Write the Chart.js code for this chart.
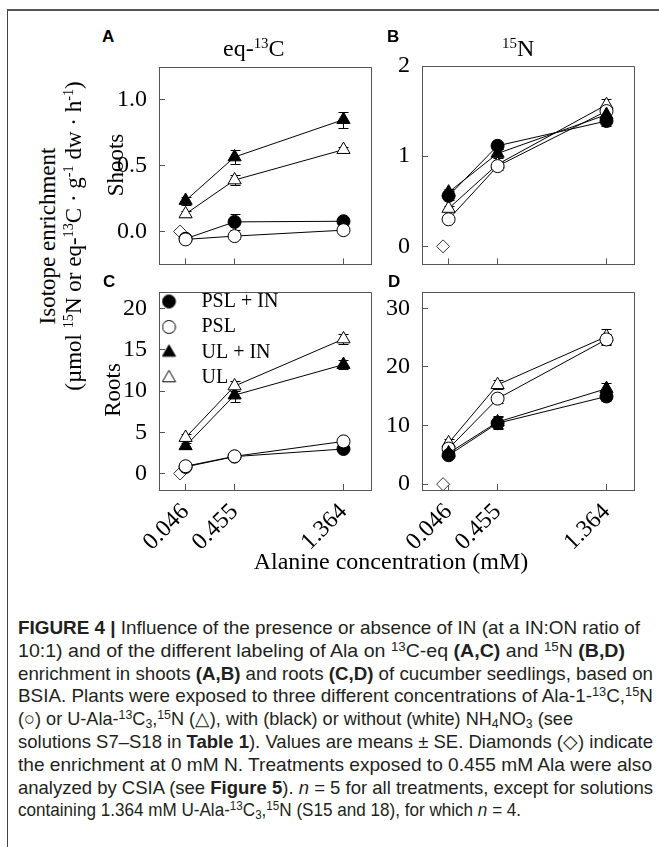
<!DOCTYPE html>
<html><head><meta charset="utf-8">
<script src="https://cdn.jsdelivr.net/npm/chart.js@4.4.1/dist/chart.umd.min.js"></script>
<style>
html,body{margin:0;padding:0;background:#fff;}
body{width:659px;height:847px;position:relative;overflow:hidden;font-family:"Liberation Serif",serif;color:#000;}
.abs{position:absolute;white-space:nowrap;}
canvas{position:absolute;}
.frame{position:absolute;left:7px;top:9px;width:720px;height:900px;border-top:2px solid #555;border-left:1px solid #444;}
.lbl{font-family:"Liberation Sans",Arial,sans-serif;font-weight:bold;font-size:17px;line-height:1;}
.ser{font-family:"Liberation Serif",serif;line-height:1;}
.rot{transform:translate(-50%,-50%) rotate(-90deg);}
.ser sup{font-size:0.62em;vertical-align:baseline;position:relative;top:-0.55em;}
.cap{font-family:"Liberation Sans",Arial,sans-serif;font-size:18.5px;color:#231f20;line-height:1;transform-origin:0 50%;}
.cap sup{font-size:0.68em;vertical-align:baseline;position:relative;top:-0.48em;}
.cap sub{font-size:0.68em;vertical-align:baseline;position:relative;top:0.25em;}
</style></head>
<body>
<div class="frame"></div>
<canvas id="cA" width="280" height="217" style="left:100px;top:56px"></canvas>
<canvas id="cB" width="280" height="217" style="left:363px;top:56px"></canvas>
<canvas id="cC" width="280" height="270" style="left:100px;top:280px"></canvas>
<canvas id="cD" width="280" height="270" style="left:363px;top:280px"></canvas>

<div class="abs lbl" style="left:102px;top:28px">A</div>
<div class="abs lbl" style="left:387px;top:28px">B</div>
<div class="abs lbl" style="left:103px;top:273px">C</div>
<div class="abs lbl" style="left:388px;top:273px">D</div>
<div class="abs ser" style="left:223px;top:36px;font-size:24px">eq-<sup>13</sup>C</div>
<div class="abs ser" style="left:502px;top:36px;font-size:24px"><sup>15</sup>N</div>
<div class="abs ser rot" style="left:115px;top:165px;font-size:23px">Shoots</div>
<div class="abs ser rot" style="left:112px;top:390px;font-size:23px">Roots</div>
<div class="abs ser rot" style="left:47px;top:236px;font-size:23px">Isotope enrichment</div>
<div class="abs ser rot" style="left:73px;top:236px;font-size:23px">(µmol <sup>15</sup>N or eq-<sup>13</sup>C · g<sup>-1</sup> dw · h<sup>-1</sup>)</div>
<div class="abs ser" style="left:391px;top:549px;font-size:24px;transform:translateX(-50%)">Alanine concentration (mM)</div>

<div class="abs cap" data-w="622" style="left:18px;top:619px"><b>FIGURE 4 |</b> Influence of the presence or absence of IN (at a IN:ON ratio of</div>
<div class="abs cap" data-w="607" style="left:18px;top:642px">10:1) and of the different labeling of Ala on <sup>13</sup>C-eq <b>(A,C)</b> and <sup>15</sup>N <b>(B,D)</b></div>
<div class="abs cap" data-w="635" style="left:18px;top:665px">enrichment in shoots <b>(A,B)</b> and roots <b>(C,D)</b> of cucumber seedlings, based on</div>
<div class="abs cap" data-w="635" style="left:18px;top:687px">BSIA. Plants were exposed to three different concentrations of Ala-1-<sup>13</sup>C,<sup>15</sup>N</div>
<div class="abs cap" data-w="555" style="left:18px;top:710px">(○) or U-Ala-<sup>13</sup>C<sub>3</sub>,<sup>15</sup>N (△), with (black) or without (white) NH<sub>4</sub>NO<sub>3</sub> (see</div>
<div class="abs cap" data-w="635" style="left:18px;top:733px">solutions S7–S18 in <b>Table 1</b>). Values are means ± SE. Diamonds (◇) indicate</div>
<div class="abs cap" data-w="634" style="left:18px;top:756px">the enrichment at 0 mM N. Treatments exposed to 0.455 mM Ala were also</div>
<div class="abs cap" data-w="635" style="left:18px;top:779px">analyzed by CSIA (see <b>Figure 5</b>). <i>n</i> = 5 for all treatments, except for solutions</div>
<div class="abs cap" data-w="495" style="left:18px;top:801px">containing 1.364 mM U-Ala-<sup>13</sup>C<sub>3</sub>,<sup>15</sup>N (S15 and 18), for which <i>n</i> = 4.</div>

<script>
// ---------- data ----------
const xConc = [0.046, 0.455, 1.364];
const xTickLabels = ['0.046', '0.455', '1.364'];
const seriesLabels = ['PSL + IN', 'PSL', 'UL + IN', 'UL'];
const controlX = 0;          // 0 mM N (diamonds)
const controlValue = 0;

// A: shoots, eq-13C
const shootC_pslIn = [-0.055, 0.073, 0.078];
const shootC_psl   = [-0.06, -0.035, 0.01];
const shootC_ulIn  = [0.235, 0.566, 0.85];
const shootC_ul    = [0.133, 0.391, 0.622];
const shootC_pslIn_se = [0.02, 0.06, 0.03];
const shootC_psl_se   = [0.01, 0.02, 0.02];
const shootC_ulIn_se  = [0.03, 0.05, 0.06];
const shootC_ul_se    = [0.02, 0.04, 0.02];

// B: shoots, 15N
const shootN_pslIn = [0.56, 1.115, 1.39];
const shootN_psl   = [0.30, 0.89, 1.50];
const shootN_ulIn  = [0.60, 1.03, 1.46];
const shootN_ul    = [0.42, 0.91, 1.57];
const shootN_pslIn_se = [0.05, 0.04, 0.06];
const shootN_psl_se   = [0.03, 0.04, 0.05];
const shootN_ulIn_se  = [0.04, 0.05, 0.06];
const shootN_ul_se    = [0.03, 0.04, 0.06];

// C: roots, eq-13C
const rootC_pslIn = [0.8, 2.05, 2.97];
const rootC_psl   = [0.88, 2.08, 3.89];
const rootC_ulIn  = [3.35, 9.5, 13.2];
const rootC_ul    = [4.35, 10.6, 16.3];
const rootC_pslIn_se = [0.2, 0.2, 0.3];
const rootC_psl_se   = [0.2, 0.2, 0.3];
const rootC_ulIn_se  = [0.4, 0.8, 0.5];
const rootC_ul_se    = [0.4, 0.6, 0.66];

// D: roots, 15N
const rootN_pslIn = [4.93, 10.4, 14.97];
const rootN_psl   = [6.07, 14.6, 24.7];
const rootN_ulIn  = [5.3, 10.6, 16.3];
const rootN_ul    = [7.03, 16.96, 25.2];
const rootN_pslIn_se = [0.5, 1.0, 0.8];
const rootN_psl_se   = [0.5, 0.8, 1.0];
const rootN_ulIn_se  = [0.5, 1.0, 1.0];
const rootN_ul_se    = [0.6, 0.8, 1.3];

const yTicksA = [0, 0.5, 1.0];
const yTicksB = [0, 1, 2];
const yTicksC = [0, 5, 10, 15, 20];
const yTicksD = [0, 10, 20, 30];

// ---------- styles ----------
const markerStyles = [
  {shape: 'circle', filled: true},
  {shape: 'circle', filled: false},
  {shape: 'triangle', filled: true},
  {shape: 'triangle', filled: false}
];
const AXIS = '#555';
const CIRC_R = 6.5, TRI_R = 7.6;

function legendImage(st) {
  const c = document.createElement('canvas');
  c.width = 30; c.height = 20;
  const g = c.getContext('2d');
  g.fillStyle = st.filled ? '#000' : '#fff';
  g.strokeStyle = '#000'; g.lineWidth = 1;
  g.beginPath();
  const cx = 7.5, cy = 10;
  if (st.shape === 'circle') { g.arc(cx, cy, CIRC_R, 0, Math.PI * 2); }
  else {
    for (let k = 0; k < 3; k++) {
      const a = k * 2 * Math.PI / 3;
      const px = cx + Math.sin(a) * TRI_R, py = cy - Math.cos(a) * TRI_R;
      k ? g.lineTo(px, py) : g.moveTo(px, py);
    }
    g.closePath();
  }
  g.fill(); g.stroke();
  return c;
}

const errorBarPlugin = {
  id: 'errorBars',
  beforeDatasetsDraw(chart) {
    const ctx = chart.ctx, xs = chart.scales.x, ys = chart.scales.y;
    ctx.save(); ctx.strokeStyle = '#000'; ctx.lineWidth = 1;
    chart.data.datasets.forEach(d => {
      if (!d.errors) return;
      d.data.forEach((p, i) => {
        const e = d.errors[i]; if (!e) return;
        const x = Math.round(xs.getPixelForValue(p.x)) + 0.5;
        const y1 = Math.round(ys.getPixelForValue(p.y + e)) + 0.5;
        const y2 = Math.round(ys.getPixelForValue(p.y - e)) + 0.5;
        ctx.beginPath();
        ctx.moveTo(x, y1); ctx.lineTo(x, y2);
        ctx.moveTo(x - 5, y1); ctx.lineTo(x + 5, y1);
        ctx.moveTo(x - 5, y2); ctx.lineTo(x + 5, y2);
        ctx.stroke();
      });
    });
    ctx.restore();
  }
};

const framePlugin = {
  id: 'frameTR',
  beforeDatasetsDraw(chart) {
    const a = chart.chartArea, ctx = chart.ctx;
    ctx.save(); ctx.strokeStyle = AXIS; ctx.lineWidth = 1;
    const t = Math.floor(a.top) + 0.5, r = Math.floor(a.right) + 0.5;
    ctx.beginPath();
    ctx.moveTo(a.left, t); ctx.lineTo(r, t); ctx.lineTo(r, a.bottom);
    ctx.stroke(); ctx.restore();
  }
};

const legendShiftPlugin = {
  id: 'legendShift',
  afterLayout(chart) {
    const lg = chart.legend;
    if (!lg || !chart.options.plugins.legend.display) return;
    const a = chart.chartArea;
    const w = lg.width, h = lg.height;
    lg.left = a.left - 3; lg.top = a.top - 6;
    lg.right = lg.left + w; lg.bottom = lg.top + h;
  }
};

function makePanel(id, series, errs, yMin, yMax, yTicks, dec, showX, showLegend, orders, padTop) {
  const datasets = series.map((ys, i) => {
    const st = markerStyles[i];
    return {
      label: seriesLabels[i],
      data: xConc.map((x, k) => ({x, y: ys[k]})),
      errors: errs[i],
      showLine: true,
      borderColor: '#000', borderWidth: 1,
      pointStyle: st.shape,
      pointRadius: st.shape === 'circle' ? CIRC_R : TRI_R,
      pointHoverRadius: st.shape === 'circle' ? CIRC_R : TRI_R,
      pointBackgroundColor: st.filled ? '#000' : '#fff',
      pointBorderColor: '#000', pointBorderWidth: 1,
      order: orders[i]
    };
  });
  datasets.push({
    label: '0 mM N',
    data: [{x: controlX, y: controlValue}],
    showLine: false,
    pointStyle: 'rectRot', pointRadius: 6.5, pointHoverRadius: 6.5,
    pointBackgroundColor: '#fff', pointBorderColor: '#333', pointBorderWidth: 1,
    order: 10
  });
  const legendImgs = markerStyles.map(legendImage);
  return new Chart(document.getElementById(id), {
    type: 'scatter',
    data: {datasets},
    plugins: [errorBarPlugin, framePlugin, legendShiftPlugin],
    options: {
      responsive: false, animation: false, devicePixelRatio: 1, events: [],
      layout: {padding: {top: padTop, right: 6, left: 0, bottom: 0}},
      plugins: {
        tooltip: {enabled: false},
        legend: {
          display: showLegend, position: 'chartArea', align: 'start',
          labels: {
            usePointStyle: true, pointStyleWidth: 30, padding: 5.5, color: '#000',
            font: {family: 'Liberation Serif', size: 20},
            generateLabels: () => seriesLabels.map((t, i) => ({
              text: t, pointStyle: legendImgs[i], fillStyle: '#000', strokeStyle: '#000',
              lineWidth: 0, hidden: false, datasetIndex: i, fontColor: '#000'
            }))
          }
        }
      },
      scales: {
        x: {
          type: 'linear', min: -0.176, max: 1.597,
          afterBuildTicks: s => { s.ticks = xConc.map(v => ({value: v})); },
          afterFit: s => {
            s.height = showX ? 60 : 8;
            s.paddingLeft = 0; s.paddingRight = 0; s.paddingTop = 0; s.paddingBottom = 0;
          },
          border: {display: true, color: AXIS, width: 1},
          grid: {drawOnChartArea: false, drawTicks: true, tickLength: -6, color: AXIS, tickColor: AXIS},
          ticks: {
            display: showX, autoSkip: false, minRotation: 45, maxRotation: 45, padding: 14,
            color: '#000', font: {family: 'Liberation Serif', size: 24},
            callback: (v, i) => xTickLabels[i]
          }
        },
        y: {
          min: yMin, max: yMax,
          afterBuildTicks: s => { s.ticks = yTicks.map(v => ({value: v})); },
          afterFit: s => {
            s.width = 59;
            s.paddingLeft = 0; s.paddingRight = 0; s.paddingTop = 0; s.paddingBottom = 0;
          },
          border: {display: true, color: AXIS, width: 1},
          grid: {drawOnChartArea: false, drawTicks: true, tickLength: -6, color: AXIS, tickColor: AXIS},
          ticks: {
            padding: 18, color: '#000', font: {family: 'Liberation Serif', size: 24},
            callback: v => Number(v).toFixed(dec)
          }
        }
      }
    }
  });
}

makePanel('cA', [shootC_pslIn, shootC_psl, shootC_ulIn, shootC_ul],
  [shootC_pslIn_se, shootC_psl_se, shootC_ulIn_se, shootC_ul_se],
  -0.25, 1.25, yTicksA, 1, false, false, [1, 0, 3, 2], 11);
makePanel('cB', [shootN_pslIn, shootN_psl, shootN_ulIn, shootN_ul],
  [shootN_pslIn_se, shootN_psl_se, shootN_ulIn_se, shootN_ul_se],
  -0.2, 2.0, yTicksB, 0, false, false, [0, 2, 1, 3], 10);
makePanel('cC', [rootC_pslIn, rootC_psl, rootC_ulIn, rootC_ul],
  [rootC_pslIn_se, rootC_psl_se, rootC_ulIn_se, rootC_ul_se],
  -2, 22, yTicksC, 0, true, true, [1, 0, 3, 2], 12);
makePanel('cD', [rootN_pslIn, rootN_psl, rootN_ulIn, rootN_ul],
  [rootN_pslIn_se, rootN_psl_se, rootN_ulIn_se, rootN_ul_se],
  -1, 32.8, yTicksD, 0, true, false, [0, 2, 1, 3], 12);

// fit caption lines: a common horizontal scale, nudged per line toward the reference line ends
(function () {
  const els = Array.from(document.querySelectorAll('.cap'));
  const nat = els.map(el => el.getBoundingClientRect().width);
  const tgt = els.map(el => parseFloat(el.dataset.w));
  const g = tgt.reduce((a, b) => a + b, 0) / nat.reduce((a, b) => a + b, 0);
  els.forEach((el, i) => {
    let f = tgt[i] / nat[i];
    f = Math.max(g * 0.92, Math.min(g * 1.08, f));
    el.style.transform = 'scaleX(' + f.toFixed(4) + ')';
  });
})();
</script>
</body></html>
